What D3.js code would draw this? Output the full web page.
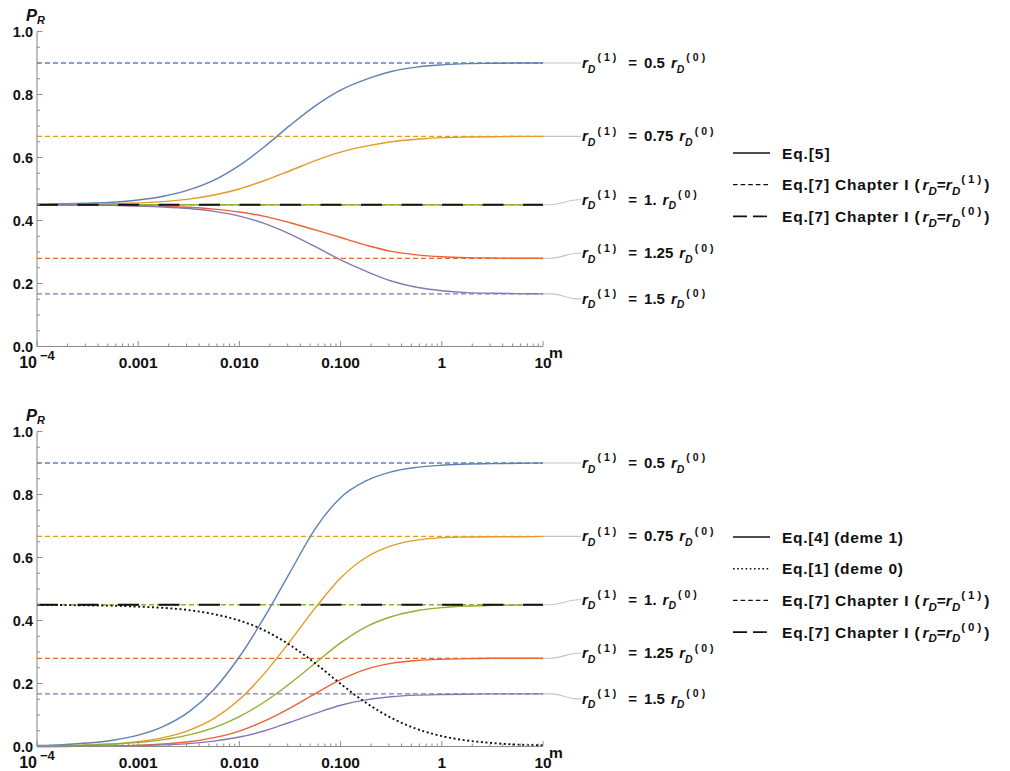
<!DOCTYPE html>
<html>
<head>
<meta charset="utf-8">
<script src="https://cdn.jsdelivr.net/npm/d3@7"></script>
<style>
  body { margin: 0; background: #fff; }
  svg { display: block; }
  text { font-family: "Liberation Sans", Arial, sans-serif; font-weight: bold; fill: #111; }
</style>
</head>
<body>
<svg id="chart" width="1010" height="771"></svg>
<script>
// ---- data -------------------------------------------------------------
// sample points along m (log10 m)
const logM = [-4, -3.75, -3.5, -3.25, -3, -2.75, -2.5, -2.25, -2, -1.75, -1.5,
              -1.25, -1, -0.75, -0.5, -0.25, 0, 0.25, 0.5, 0.75, 1];

const ratioLabels = ["0.5", "0.75", "1.", "1.25", "1.5"];
// Eq.[7] Chapter I with r_D = r_D^(1)
const asymptotes = [0.9, 0.667, 0.45, 0.28, 0.167];
// Eq.[7] Chapter I with r_D = r_D^(0)
const baseValue = 0.45;

// Eq.[5]
const eq5_r050 = [0.451, 0.453, 0.455, 0.458, 0.465, 0.477, 0.497, 0.528, 0.575, 0.635, 0.702,
                  0.764, 0.814, 0.848, 0.873, 0.887, 0.894, 0.898, 0.899, 0.900, 0.900];
const eq5_r075 = [0.450, 0.451, 0.452, 0.453, 0.456, 0.460, 0.468, 0.481, 0.500, 0.527, 0.558,
                  0.590, 0.617, 0.636, 0.650, 0.658, 0.663, 0.665, 0.666, 0.667, 0.667];
const eq5_r100 = [0.450, 0.450, 0.450, 0.450, 0.450, 0.450, 0.450, 0.450, 0.450, 0.450, 0.450,
                  0.450, 0.450, 0.450, 0.450, 0.450, 0.450, 0.450, 0.450, 0.450, 0.450];
const eq5_r125 = [0.450, 0.450, 0.449, 0.448, 0.447, 0.445, 0.442, 0.436, 0.427, 0.413, 0.393,
                  0.370, 0.346, 0.322, 0.302, 0.291, 0.285, 0.282, 0.281, 0.280, 0.280];
const eq5_r150 = [0.450, 0.450, 0.449, 0.448, 0.446, 0.443, 0.438, 0.429, 0.414, 0.390, 0.357,
                  0.317, 0.275, 0.239, 0.208, 0.188, 0.177, 0.171, 0.169, 0.168, 0.167];

// Eq.[4] (deme 1)
const eq4_r050 = [0.003, 0.006, 0.011, 0.020, 0.036, 0.064, 0.110, 0.182, 0.285, 0.412, 0.553,
                  0.692, 0.790, 0.843, 0.872, 0.886, 0.893, 0.897, 0.898, 0.899, 0.900];
const eq4_r075 = [0.001, 0.002, 0.005, 0.008, 0.015, 0.028, 0.051, 0.089, 0.149, 0.233, 0.334,
                  0.440, 0.535, 0.600, 0.637, 0.655, 0.663, 0.665, 0.666, 0.666, 0.667];
const eq4_r100 = [0.002, 0.003, 0.004, 0.008, 0.013, 0.022, 0.037, 0.060, 0.095, 0.142, 0.200,
                  0.265, 0.329, 0.380, 0.412, 0.431, 0.441, 0.446, 0.448, 0.449, 0.450];
const eq4_r125 = [0.000, 0.001, 0.001, 0.002, 0.004, 0.008, 0.015, 0.028, 0.049, 0.081, 0.122,
                  0.168, 0.212, 0.245, 0.264, 0.273, 0.277, 0.279, 0.280, 0.280, 0.280];
const eq4_r150 = [0.000, 0.000, 0.001, 0.001, 0.002, 0.005, 0.009, 0.017, 0.030, 0.050, 0.077,
                  0.105, 0.131, 0.148, 0.158, 0.163, 0.165, 0.166, 0.167, 0.167, 0.167];

// Eq.[1] (deme 0)
const eq1_deme0 = [0.449, 0.449, 0.448, 0.447, 0.444, 0.440, 0.433, 0.420, 0.400, 0.368, 0.322,
                   0.264, 0.199, 0.139, 0.091, 0.056, 0.033, 0.019, 0.011, 0.006, 0.004];

const xTickValues = [1e-4, 1e-3, 1e-2, 1e-1, 1, 10];
const xTickLabels = ["10|−4", "0.001", "0.010", "0.100", "1", "10"];
const yTickValues = [0, 0.2, 0.4, 0.6, 0.8, 1.0];
const yTickLabels = ["0.0", "0.2", "0.4", "0.6", "0.8", "1.0"];

// ---- styles & layout ---------------------------------------------------
const colors = ["#5e81b5", "#e19c24", "#8fb032", "#eb6235", "#8778b3"];
const labelShift = [0, 0, -5, -5, 5];

const svg = d3.select("#chart");
const mGrid = logM.map(e => Math.pow(10, e));
const x = d3.scaleLog().domain([1e-4, 10]).range([37, 543]);
const xLeft = x(1e-4), xRight = x(10);

function rich(g, px, py, parts, size, anchor) {
  const t = g.append("text").attr("x", px).attr("y", py).attr("font-size", size);
  if (anchor) t.attr("text-anchor", anchor);
  let cur = 0;
  parts.forEach(p => {
    const shift = p.s === "sub" ? (p.sh != null ? p.sh : size * 0.3)
                : p.s === "sup" ? -(p.sh != null ? p.sh : size * 0.45) : 0;
    const ts = t.append("tspan").text(p.t).attr("dy", shift - cur);
    cur = shift;
    if (p.s) ts.attr("font-size", p.fs || size * 0.72);
    if (p.i) ts.attr("font-style", "italic");
    if (p.dx) ts.attr("dx", p.dx);
    if (p.ls) ts.attr("letter-spacing", p.ls);
  });
  return t;
}

function rParts(sup, fs) {
  return [
    { t: "r", i: 1 },
    { t: "D", i: 1, s: "sub", fs: fs },
    { t: "(" + sup + ")", s: "sup", dx: 2, ls: 3, fs: fs }
  ];
}

function drawPanel(offY, series, opts) {
  const y = d3.scaleLinear().domain([0, 1]).range([346.5 + offY, 31.5 + offY]);
  const g = svg.append("g");
  const axisY = y(0);
  const line = d3.line()
    .x((d, i) => x(mGrid[i]))
    .y(d => y(d))
    .curve(d3.curveMonotoneX);

  // leader lines to the ratio labels
  asymptotes.forEach((v, k) => {
    const y0 = y(v), y1 = y(v) + labelShift[k];
    const p = d3.path();
    p.moveTo(xRight, y0);
    p.lineTo(xRight + 8, y0);
    p.bezierCurveTo(xRight + 20, y0, xRight + 22, y1, xRight + 35, y1);
    p.lineTo(xRight + 38, y1);
    g.append("path").attr("d", p.toString())
      .attr("fill", "none").attr("stroke", "#c4c4c4").attr("stroke-width", 1.1);
    rich(g, xRight + 39, y1 + 5, [
      ...rParts("1", 10.5),
      { t: "=", dx: 9 },
      { t: ratioLabels[k], dx: 7 },
      ...rParts("0", 10.5).map((q, j) => j === 0 ? Object.assign({}, q, { dx: 6 }) : q)
    ], 15);
  });

  // Eq.[7] with r_D = r_D^(1): dashed horizontal levels
  asymptotes.forEach((v, k) => {
    g.append("line")
      .attr("x1", xLeft).attr("x2", xRight)
      .attr("y1", y(v)).attr("y2", y(v))
      .attr("stroke", colors[k]).attr("stroke-width", 1.3)
      .attr("stroke-dasharray", "5,3");
  });

  // solid curves
  series.forEach((s, k) => {
    g.append("path").datum(s)
      .attr("d", line)
      .attr("fill", "none")
      .attr("stroke", colors[k])
      .attr("stroke-width", 1.4);
  });

  // Eq.[7] with r_D = r_D^(0): long dashed black level
  g.append("line")
    .attr("x1", xLeft).attr("x2", xRight)
    .attr("y1", y(baseValue)).attr("y2", y(baseValue))
    .attr("stroke", "#111").attr("stroke-width", 2)
    .attr("stroke-dasharray", "21,19.5");

  if (opts.dotted) {
    g.append("path").datum(opts.dotted)
      .attr("d", line)
      .attr("fill", "none")
      .attr("stroke", "#111")
      .attr("stroke-width", 1.9)
      .attr("stroke-dasharray", "2,2.6");
  }

  // axes
  const axisColor = "#8c8c8c";
  g.append("line").attr("x1", xLeft).attr("x2", xRight)
    .attr("y1", axisY).attr("y2", axisY).attr("stroke", axisColor).attr("stroke-width", 1.1);
  g.append("line").attr("x1", xLeft).attr("x2", xLeft)
    .attr("y1", axisY).attr("y2", y(1)).attr("stroke", axisColor).attr("stroke-width", 1.1);

  const xMinor = [];
  for (let d = -4; d <= 0; d++) for (let k = 2; k <= 9; k++) xMinor.push(k * Math.pow(10, d));
  xMinor.forEach(v => {
    g.append("line").attr("x1", x(v)).attr("x2", x(v))
      .attr("y1", axisY).attr("y2", axisY - 3).attr("stroke", axisColor);
  });
  xTickValues.forEach((v, i) => {
    g.append("line").attr("x1", x(v)).attr("x2", x(v))
      .attr("y1", axisY).attr("y2", axisY - 5.5).attr("stroke", axisColor);
    const lab = xTickLabels[i];
    if (lab.includes("|")) {
      const [b, e] = lab.split("|");
      rich(g, x(v), axisY + 21.5, [{ t: b }, { t: e, s: "sup", dx: 3, sh: 8, fs: 13 }], 16, "middle");
    } else {
      g.append("text").attr("x", x(v)).attr("y", axisY + 21.5)
        .attr("text-anchor", "middle").attr("font-size", 15.5).text(lab);
    }
  });
  g.append("text").attr("x", xRight + 6).attr("y", axisY + 11)
    .attr("font-size", 15.5).text("m");

  d3.range(0, 1.0001, 0.05).forEach(v => {
    g.append("line").attr("x1", xLeft).attr("x2", xLeft + 3)
      .attr("y1", y(v)).attr("y2", y(v)).attr("stroke", axisColor);
  });
  yTickValues.forEach((v, i) => {
    g.append("line").attr("x1", xLeft).attr("x2", xLeft + 5.5)
      .attr("y1", y(v)).attr("y2", y(v)).attr("stroke", axisColor);
    g.append("text").attr("x", xLeft - 4).attr("y", y(v) + 5.5)
      .attr("text-anchor", "end").attr("font-size", 14.5).text(yTickLabels[i]);
  });
  rich(g, 26, y(1) - 10.5, [{ t: "P", i: 1 }, { t: "R", i: 1, s: "sub", sh: 2.5, fs: 11 }], 16.5);

  // legend
  const lg = g.append("g");
  opts.legend.forEach((item, i) => {
    const ly = opts.legendY + i * 31.7;
    const ln = lg.append("line").attr("x1", 733).attr("x2", 770)
      .attr("y1", ly).attr("y2", ly).attr("stroke", "#111");
    if (item.kind === "solid") ln.attr("stroke-width", 1.4);
    if (item.kind === "dash") ln.attr("stroke-width", 1.3).attr("stroke-dasharray", "4.6,3");
    if (item.kind === "long") ln.attr("stroke-width", 1.6).attr("stroke-dasharray", "14,6");
    if (item.kind === "dot") ln.attr("stroke-width", 1.6).attr("stroke-dasharray", "1.6,2.6");
    rich(lg, 782, ly + 5.5, item.parts, 15.5);
  });
}

function chapterParts(sup) {
  return [
    { t: "Eq.[7] Chapter I (", ls: 0.8 },
    { t: "r", i: 1, dx: 2 },
    { t: "D", i: 1, s: "sub", fs: 11.5 },
    { t: "=" },
    { t: "r", i: 1 },
    { t: "D", i: 1, s: "sub", fs: 11.5 },
    { t: "(" + sup + ")", s: "sup", dx: 1, ls: 3, fs: 11.5 },
    { t: ")", dx: 0 }
  ];
}

drawPanel(0, [eq5_r050, eq5_r075, eq5_r100, eq5_r125, eq5_r150], {
  legendY: 153,
  legend: [
    { kind: "solid", parts: [{ t: "Eq.[5]", ls: 0.9 }] },
    { kind: "dash", parts: chapterParts("1") },
    { kind: "long", parts: chapterParts("0") }
  ]
});

drawPanel(400, [eq4_r050, eq4_r075, eq4_r100, eq4_r125, eq4_r150], {
  dotted: eq1_deme0,
  legendY: 537,
  legend: [
    { kind: "solid", parts: [{ t: "Eq.[4] (deme 1)", ls: 0.7 }] },
    { kind: "dot", parts: [{ t: "Eq.[1] (deme 0)", ls: 0.7 }] },
    { kind: "dash", parts: chapterParts("1") },
    { kind: "long", parts: chapterParts("0") }
  ]
});
</script>
</body>
</html>
